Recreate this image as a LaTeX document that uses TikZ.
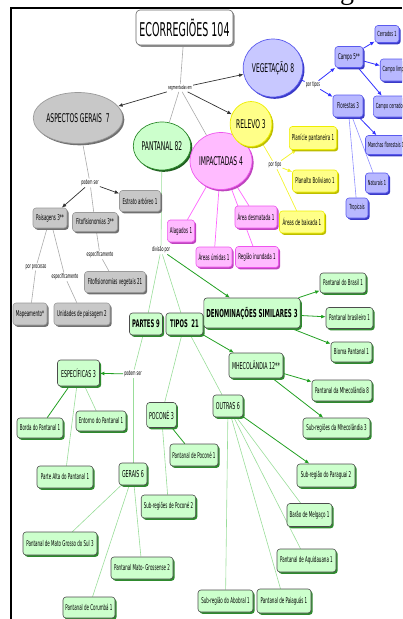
\documentclass[tikz,border=0pt]{standalone}
\usepackage{fontspec}
\setmainfont{Liberation Serif}
\newfontfamily\cmf[FakeStretch=0.5]{DejaVu Sans}
\usetikzlibrary{shapes.geometric,arrows.meta,shadows}
\pgfdeclarelayer{bg}
\pgfsetlayers{bg,main}
\definecolor{gfill}{HTML}{CCFFCC}
\definecolor{gshad}{HTML}{2E8B2E}
\definecolor{gdark}{HTML}{22A022}
\definecolor{glight}{HTML}{99DD99}
\definecolor{bfill}{HTML}{B8B8FF}
\definecolor{befill}{HTML}{C8C8FF}
\definecolor{bdraw}{HTML}{5A5AEE}
\definecolor{bshad}{HTML}{3A3AC8}
\definecolor{bline}{HTML}{3030FF}
\definecolor{blight}{HTML}{9090FF}
\definecolor{yfill}{HTML}{FFFF88}
\definecolor{ydraw}{HTML}{EEEE00}
\definecolor{yline}{HTML}{F4F430}
\definecolor{pfill}{HTML}{FFBBFF}
\definecolor{pdraw}{HTML}{EE55EE}
\definecolor{pline}{HTML}{FF66FF}
\definecolor{kfill}{HTML}{C8C8C8}
\definecolor{kdraw}{HTML}{9A9A9A}
\definecolor{kshad}{HTML}{707070}
\definecolor{kline}{HTML}{AAAAAA}
\definecolor{kdark}{HTML}{333333}
\tikzset{
 fs/.style={font=\cmf\fontsize{#1}{#1}\selectfont},
 fsb/.style={font=\cmf\bfseries\fontsize{#1}{#1}\selectfont},
 box/.style={rounded corners=3pt, inner xsep=2.5pt, inner ysep=0pt, minimum height=21pt, line width=0.6pt, fs=8, align=center},
 shad/.style={drop shadow={shadow xshift=1.6pt, shadow yshift=-1.8pt, fill=#1, opacity=1}},
 gb/.style={box, fill=gfill, draw=black!70, shad=gshad},
 bb/.style={box, fill=bfill, draw=bdraw, shad=bshad},
 yb/.style={box, fill=yfill, draw=ydraw, shad=ydraw!80!black},
 pb/.style={box, fill=pfill, draw=pdraw, shad=pdraw!80!black},
 kb/.style={box, fill=kfill, draw=kdraw, shad=kshad},
 ell/.style={ellipse, inner sep=0pt, line width=0.7pt, fs=12},
 lab/.style={fs=6.5, inner sep=1pt},
 arr/.style={-{Latex[length=4.5pt,width=3.8pt]}},
 gl/.style={draw=glight, line width=0.6pt},
 ga/.style={draw=gdark, line width=0.8pt, arr},
 bl/.style={draw=blight, line width=0.6pt},
 ba/.style={draw=bline, line width=0.8pt, arr},
 yl/.style={draw=yline, line width=0.7pt},
 ya/.style={draw=yline, line width=0.8pt, arr},
 pl/.style={draw=pline, line width=0.7pt},
 kl/.style={draw=kline, line width=0.6pt},
 ka/.style={draw=kdark, line width=0.7pt, arr},
}
\begin{document}
\begin{tikzpicture}[x=1pt,y=-1pt]
\useasboundingbox (0,0) rectangle (402,619);
\clip (0,0) rectangle (402,619);
\node[font=\fontsize{28}{28}\selectfont, anchor=base, inner sep=0pt] (gfrag) at (347,-1) {g};
\draw[line width=1.6pt] (11,619) -- (11,8) -- (402,8);
% title
\node[rounded corners=4pt, fill=white, draw=black!60, line width=0.6pt, shad=black!45, fs=19, minimum width=97pt, minimum height=35pt, inner sep=0pt] (t) at (184.5,27.5) {ECORREGIÕES 104};
\node[lab, fs=5.5] (seg) at (180,88) {segmentadas em};
% ellipses
\node[ell, fill=kfill, draw=kdraw, shad=kshad, minimum width=70pt, minimum height=51pt] (asp) at (78,118) {ASPECTOS GERAIS~ 7};
\node[ell, fill=gfill, draw=gshad, shad=gshad!70!black, minimum width=49pt, minimum height=48pt] (pant) at (162,146) {PANTANAL 82};
\node[ell, fill=pfill, draw=pdraw, shad=pdraw!80!black, minimum width=57pt, minimum height=57pt] (imp) at (221,161) {IMPACTADAS 4};
\node[ell, fill=befill, draw=bdraw, shad=bshad, minimum width=54pt, minimum height=58pt] (veg) at (273,68) {VEGETAÇÃO 8};
\node[ell, fill=yfill, draw=ydraw, shad=ydraw!80!black, minimum width=38pt, minimum height=45pt] (rel) at (251,124) {RELEVO 3};
% blue
\node[lab] (ptipos) at (313,85) {por tipos};
\node[bb, minimum width=28pt] (campo) at (349,57) {Campo 5**};
\node[bb, fs=7, minimum height=17pt, minimum width=21pt] (cerr) at (387,34) {Cerrados 1};
\node[bb, fs=7, minimum height=22pt] (clim) at (396,70) {Campo limpo 1};
\node[bb, fs=7, minimum height=21pt] (ccer) at (391,106.5) {Campo cerrado 1};
\node[bb, minimum width=30pt, minimum height=22pt] (flor) at (348,106) {Florestas 3};
\node[bb, fs=7, minimum height=19pt] (manch) at (386,145) {Manchas florestais 1};
\node[bb, fs=7, minimum width=22pt, minimum height=20pt] (nat) at (377,183) {Naturais 1};
\node[bb, fs=7, minimum width=22pt, minimum height=20pt] (trop) at (357,208) {Tropicais};
% yellow
\node[lab] (ptipo) at (275,165) {por tipo};
\node[yb, minimum width=47pt, minimum height=23pt] (plan) at (313,138) {Planície pantaneira 1};
\node[yb, minimum width=45pt, minimum height=22pt] (bol) at (315,181) {Planalto Boliviano 1};
\node[yb, minimum width=45pt, minimum height=22pt] (baix) at (302,222) {Áreas de baixada 1};
% pink
\node[pb, minimum width=27pt, minimum height=22pt] (alag) at (181,231) {Alagados 1};
\node[pb, minimum width=36pt, minimum height=20pt] (umid) at (214,257) {Áreas úmidas 1};
\node[pb, minimum width=43pt, minimum height=21pt] (inund) at (257,257) {Região inundada 1};
\node[pb, minimum width=42pt, minimum height=22pt] (desm) at (256,217) {Área desmatada 1};
% gray
\node[lab] (pod1) at (90,183) {podem ser};
\node[kb, minimum width=41pt] (estr) at (140,201) {Estrato arbóreo 1};
\node[kb, minimum width=34pt, minimum height=20pt] (pais) at (50,218) {Paisagens 3**};
\node[kb, minimum width=45pt, minimum height=19pt] (fito) at (95,222) {Fitofisionomias 3**};
\node[lab] (esp1) at (100,255) {especificamente};
\node[kb, minimum width=61pt] (fveg) at (115,282) {Fitofisionomias vegetais 21};
\node[lab] (proc) at (36,267) {por processo};
\node[lab] (esp2) at (65,277) {especificamente};
\node[kb, minimum width=34pt, minimum height=22pt] (mapa) at (30,314) {Mapeamento*};
\node[kb, minimum width=56pt, minimum height=22pt] (unid) at (82,314) {Unidades de paisagem 2};
% green
\node[lab] (div) at (161,250) {divisão por};
\node[gb, fsb=10.5, minimum width=33pt, minimum height=22pt] (part) at (146,324) {PARTES 9};
\node[gb, fsb=10.5, minimum width=37pt, minimum height=22pt] (tipos) at (184.5,324) {TIPOS~ 21};
\node[gb, fsb=11, minimum width=95pt, minimum height=30pt] (denom) at (252,313) {DENOMINAÇÕES SIMILARES 3};
\node[gb, minimum width=46pt, minimum height=20pt] (bras) at (343,283) {Pantanal do Brasil 1};
\node[gb, minimum width=47pt] (brasil) at (349.5,318) {Pantanal brasileiro 1};
\node[gb, minimum width=41pt, minimum height=20pt] (bioma) at (351.5,352) {Bioma Pantanal 1};
\node[gb, fs=9.5, minimum width=54pt, minimum height=25pt] (mhe) at (256,365.5) {MHECOLÂNDIA 12**};
\node[gb, minimum width=60pt] (pmhe) at (342,390.5) {Pantanal da Mhecolândia 8};
\node[gb, minimum width=67pt, minimum height=20pt] (smhe) at (336.5,428) {Sub-regiões da Mhecolândia 3};
\node[gb, fs=9.5, minimum width=30pt, minimum height=22pt] (outr) at (228,406) {OUTRAS 6};
\node[gb, minimum width=58pt, minimum height=23pt] (parag) at (326,475.5) {Sub-região do Paraguai 2};
\node[gb, minimum width=45pt, minimum height=23pt] (barao) at (309.5,515) {Barão de Melgaço 1};
\node[gb, minimum width=59pt, minimum height=23pt] (aquid) at (306.5,560.5) {Pantanal de Aquidauana 1};
\node[gb, minimum width=54pt, minimum height=24pt] (paiag) at (284,601) {Pantanal de Paiaguás 1};
\node[gb, minimum width=55pt, minimum height=22pt] (abob) at (225.5,601) {Sub-região do Abobral 1};
\node[gb, fs=9.5, minimum width=29pt, minimum height=25pt] (poco) at (161.5,415) {POCONÉ 3};
\node[gb, minimum width=48pt, minimum height=22pt] (ppoco) at (194,455) {Pantanal de Poconé 1};
\node[gb, minimum width=53pt, minimum height=23pt] (spoco) at (168.5,506.5) {Sub-regiões de Poconé 2};
\node[lab] (pod2) at (133,374) {podem ser};
\node[gb, fs=9.5, minimum width=42pt, minimum height=26pt] (espc) at (78.5,373) {ESPECÍFICAS 3};
\node[gb, minimum width=46pt, minimum height=20pt] (borda) at (40,428) {Borda do Pantanal 1};
\node[gb, minimum width=50pt, minimum height=20pt] (ento) at (101,421) {Entorno do Pantanal 1};
\node[gb, minimum width=56pt, minimum height=22pt] (alta) at (65,477) {Parte Alta do Pantanal 1};
\node[gb, fs=9.5, minimum width=28pt, minimum height=22pt] (ger) at (133,474) {GERAIS 6};
\node[gb, minimum width=74pt, minimum height=23pt] (mgs) at (60,543.5) {Pantanal de Mato Grosso do Sul 3};
\node[gb, minimum width=62pt, minimum height=22pt] (mgr) at (142,568) {Pantanal Mato- Grossense 2};
\node[gb, minimum width=52pt, minimum height=21pt] (coru) at (89,607.5) {Pantanal de Corumbá 1};
% connectors
\begin{pgfonlayer}{bg}
\draw[kl] (t) -- (seg);
\draw[ka] (seg) -- (asp);
\draw[ka] (seg) -- (veg);
\draw[ka] (seg) -- (rel);
\draw[kl] (seg) -- (pant);
\draw[kl] (seg) -- (imp);
% blue
\draw[ba, -] (veg) -- (ptipos);
\draw[ba] (ptipos) -- (campo);
\draw[ba] (ptipos) -- (flor);
\draw[ba] (campo) -- (cerr);
\draw[ba] (campo) -- (clim);
\draw[ba] (campo) -- (ccer);
\draw[ba] (flor) -- (manch);
\draw[bl] (flor) -- (nat);
\draw[bl] (flor) -- (trop);
% yellow
\draw[yl] (rel) -- (ptipo);
\draw[ya] (ptipo) -- (plan);
\draw[ya] (ptipo) -- (bol);
\draw[yl] (ptipo) -- (baix);
% pink
\draw[pl] (imp) -- (alag);
\draw[pl] (imp) -- (umid);
\draw[pl] (imp) -- (inund);
\draw[pl] (imp) -- (desm);
% gray
\draw[kl] (asp) -- (pod1);
\draw[ka] (pod1) -- (estr);
\draw[ka] (pod1) -- (pais);
\draw[kl] (pod1) -- (fito);
\draw[kl] (fito) -- (esp1);
\draw[kl] (esp1) -- (fveg);
\draw[kl] (pais) -- (proc);
\draw[kl] (proc) -- (mapa);
\draw[kl] (pais) -- (esp2);
\draw[kl] (esp2) -- (unid);
% green
\draw[gl] (pant) -- (div);
\draw[gl] (div) -- (part);
\draw[gl] (div) -- (tipos);
\draw[ga] (div) -- (denom);
\draw[ga] (denom) -- (bras);
\draw[ga] (denom) -- (brasil);
\draw[ga] (denom) -- (bioma);
\draw[ga] (tipos) -- (mhe);
\draw[gl] (tipos) -- (outr);
\draw[gl] (tipos) -- (poco);
\draw[ga] (mhe) -- (pmhe);
\draw[ga] (mhe) -- (smhe);
\draw[ga] (outr) -- (parag);
\draw[gl] (outr) -- (barao);
\draw[gl] (outr) -- (aquid);
\draw[gl] (outr) -- (paiag);
\draw[gl] (outr) -- (abob);
\draw[ga, -] (poco) -- (ppoco);
\draw[gl] (poco) -- (spoco);
\draw[gl] (part) -- (pod2);
\draw[ga] (pod2) -- (espc);
\draw[gl] (pod2) -- (ger);
\draw[ga, -] (espc) -- (borda);
\draw[gl] (espc) -- (ento);
\draw[gl] (espc) -- (alta);
\draw[gl] (ger) -- (mgs);
\draw[gl] (ger) -- (mgr);
\draw[gl] (ger) -- (coru);
\end{pgfonlayer}
\end{tikzpicture}
\end{document}
